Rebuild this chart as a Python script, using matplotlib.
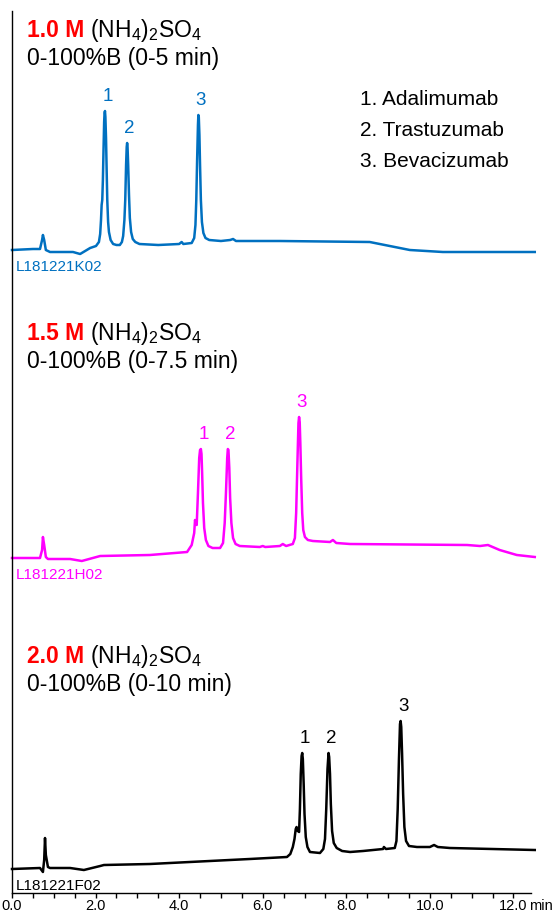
import matplotlib
matplotlib.use("Agg")
import matplotlib.pyplot as plt
import numpy as np

plt.rcParams['font.family'] = ['Liberation Sans', 'DejaVu Sans']
plt.rcParams['mathtext.fontset'] = 'custom'
plt.rcParams['mathtext.rm'] = 'Liberation Sans'
plt.rcParams['mathtext.it'] = 'Liberation Sans:italic'
plt.rcParams['mathtext.bf'] = 'Liberation Sans:bold'

# retention time (min) and detector signal (arb. units)
t_k02 = [0.00, 0.50, 0.67, 0.72, 0.74, 0.77, 0.81, 0.91, 1.46, 1.63, 1.87, 2.01, 2.08, 2.11,
         2.13, 2.145, 2.16, 2.175, 2.19, 2.205, 2.215, 2.225, 2.235, 2.25, 2.265, 2.28, 2.30, 2.32,
         2.36, 2.42, 2.50, 2.58, 2.63, 2.66, 2.69, 2.71, 2.73, 2.745, 2.755, 2.765, 2.78, 2.80,
         2.82, 2.85, 2.89, 2.95, 3.05, 3.50, 4.00, 4.06, 4.10, 4.30, 4.36, 4.39, 4.41, 4.43,
         4.45, 4.46, 4.47, 4.485, 4.50, 4.52, 4.545, 4.58, 4.63, 4.72, 5.00, 5.22, 5.29, 5.36,
         6.41, 8.56, 9.04, 9.52, 10.31, 12.51]
s_k02 = [0, 1, 1, 10, 15, 10, 0, -2, -2, -4, 2, 4, 8, 16,
         30, 45, 50, 70, 100, 128, 137, 139, 133, 112, 80, 50, 28, 18,
         10, 6, 5, 5, 8, 14, 30, 50, 85, 103, 107, 103, 85, 55,
         32, 18, 11, 8, 6, 5, 6, 8, 6, 7, 12, 25, 50, 90,
         125, 135, 133, 115, 85, 50, 28, 17, 12, 10, 9, 10, 11, 9,
         9, 8, 4, 0, -2, -2]

t_h02 = [0.00, 0.67, 0.72, 0.74, 0.77, 0.81, 0.86, 1.39, 1.67, 2.11, 3.30, 4.19, 4.30, 4.36,
         4.38, 4.40, 4.42, 4.45, 4.48, 4.50, 4.52, 4.535, 4.55, 4.57, 4.60, 4.64, 4.70, 4.80,
         4.98, 5.05, 5.09, 5.12, 5.15, 5.165, 5.18, 5.20, 5.22, 5.25, 5.29, 5.35, 5.45, 5.93,
         6.00, 6.06, 6.41, 6.48, 6.56, 6.72, 6.77, 6.80, 6.83, 6.855, 6.87, 6.885, 6.90, 6.92,
         6.945, 6.97, 7.01, 7.08, 7.20, 7.61, 7.68, 7.76, 8.09, 10.89, 11.20, 11.39, 11.67, 12.08,
         12.51]
s_h02 = [0, 0, 8, 21, 13, 1, -1, -1, -3, 2, 3, 6, 13, 25,
         38, 34, 33, 65, 100, 108, 109, 104, 85, 55, 30, 18, 12, 10,
         10, 15, 35, 65, 100, 109, 108, 90, 60, 35, 20, 14, 12, 11,
         12, 11, 12, 14, 12, 14, 20, 45, 95, 135, 141, 136, 115, 80,
         45, 28, 21, 18, 17, 16, 18, 15, 14, 13, 12, 13, 8, 3,
         1]

t_f02 = [0.00, 0.67, 0.74, 0.77, 0.79, 0.81, 0.86, 0.91, 1.39, 1.72, 2.11, 2.20, 3.30, 5.69,
         6.58, 6.66, 6.72, 6.76, 6.79, 6.81, 6.84, 6.87, 6.89, 6.91, 6.93, 6.945, 6.96, 6.98,
         7.00, 7.03, 7.07, 7.13, 7.37, 7.45, 7.49, 7.52, 7.55, 7.575, 7.59, 7.61, 7.63, 7.66,
         7.70, 7.77, 7.90, 8.09, 8.40, 8.88, 8.90, 8.95, 9.16, 9.20, 9.23, 9.26, 9.285, 9.30,
         9.315, 9.335, 9.36, 9.39, 9.43, 9.50, 9.69, 10.00, 10.10, 10.19, 10.48, 12.51]
s_f02 = [0, 1, -3, 9, 31, 14, 2, 1, 1, -1, 3, 4, 5, 10,
         12, 15, 22, 30, 40, 42, 38, 37, 60, 95, 113, 116, 110, 85,
         55, 32, 22, 17, 16, 20, 30, 60, 100, 116, 112, 95, 65, 38,
         26, 21, 18, 17, 18, 20, 22, 20, 21, 28, 60, 110, 145, 148,
         142, 115, 75, 42, 28, 23, 22, 22, 24, 22, 21, 19]

run_ids = ['L181221K02', 'L181221H02', 'L181221F02']
salt = ['1.0 M', '1.5 M', '2.0 M']
gradient = ['0-100%B (0-5 min)', '0-100%B (0-7.5 min)', '0-100%B (0-10 min)']
peak_times = [[2.22, 2.75, 4.46], [4.52, 5.17, 6.87], [6.94, 7.58, 9.30]]
analytes = ['1. Adalimumab', '2. Trastuzumab', '3. Bevacizumab']

traces = [(t_k02, s_k02), (t_h02, s_h02), (t_f02, s_f02)]
colors = ['#0070C0', '#FF00FF', '#000000']
offsets = [643, 335, 24]
title_y = [856, 553, 230]

fig = plt.figure(figsize=(5.6, 9.16), dpi=100)
ax = fig.add_axes([12 / 560, 23 / 916, 519 / 560, 882 / 916])

for (t, s), c, off, rid, m, g, pk, ty in zip(traces, colors, offsets, run_ids,
                                             salt, gradient, peak_times, title_y):
    t = np.array(t)
    y = np.array(s) + off
    ax.plot(t, y, color=c, lw=1.8, clip_on=False, solid_joinstyle='round')
    # peak numbers sit on top of each apex
    for i, p in enumerate(pk):
        win = np.abs(t - p) < 0.08
        j = np.argmax(np.where(win, y, -1e9))
        ax.annotate(str(i + 1), xy=(t[j], y[j]), xytext=(1.8, 7.5),
                    textcoords='offset points', ha='center', va='baseline',
                    color=c, fontsize=13.5)
    ax.text(0.10, off - 21, rid, color=c, fontsize=11, va='baseline', ha='left')
    t1 = ax.text(0.36, ty, m, color='red', fontweight='bold', fontsize=16.5,
                 va='baseline', ha='left')
    ax.annotate(r' (NH$_4$)$_2$SO$_4$', xy=(1, ty), xycoords=(t1, 'data'),
                fontsize=16.5, va='baseline', ha='left')
    ax.text(0.36, ty - 28, g, fontsize=16.5, va='baseline', ha='left')

for i, a in enumerate(analytes):
    ax.text(8.33, 788 - 31 * i, a, fontsize=15, va='baseline', ha='left')

ax.set_xlim(0, 12.42)
ax.set_ylim(0, 882)
ax.set_xticks(np.arange(0, 12.1, 2.0))
ax.set_xticklabels(['%.1f' % v for v in np.arange(0, 12.1, 2.0)])
ax.set_xticks(np.arange(0, 12.42, 0.5), minor=True)
ax.tick_params(axis='x', which='both', length=3.4, width=1, direction='out',
               labelsize=10.5, pad=1.2)
ax.set_yticks([])
ax.spines['top'].set_visible(False)
ax.spines['right'].set_visible(False)
ax.spines['left'].set_linewidth(1)
ax.spines['bottom'].set_linewidth(1)
ax.annotate('min', xy=(12.38, 0), xytext=(0, -4.6), textcoords='offset points',
            fontsize=10.5, va='top', ha='left', annotation_clip=False)

fig.savefig('out.png', dpi=100)
